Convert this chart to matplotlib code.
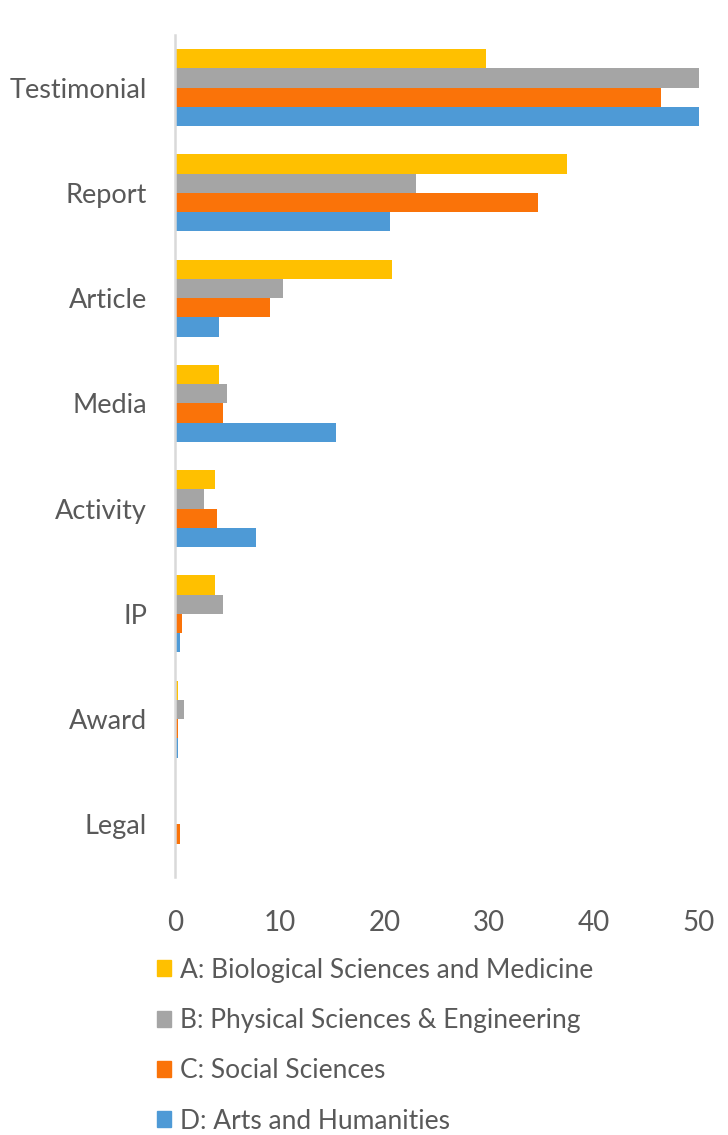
import numpy as np
import matplotlib.pyplot as plt
from matplotlib.patches import Patch

plt.rcParams['font.family'] = ['Lato', 'DejaVu Sans']

categories = ['Testimonial', 'Report', 'Article', 'Media', 'Activity', 'IP', 'Award', 'Legal']
series_names = ['A: Biological Sciences and Medicine',
                'B: Physical Sciences & Engineering',
                'C: Social Sciences',
                'D: Arts and Humanities']
bio = [29.7, 37.4, 20.7, 4.2, 3.8, 3.8, 0.25, 0]
phys = [50.1, 23.0, 10.3, 5.0, 2.8, 4.6, 0.9, 0]
social = [46.4, 34.6, 9.1, 4.6, 4.0, 0.7, 0.3, 0.5]
arts = [50.1, 20.5, 4.2, 15.4, 7.7, 0.5, 0.25, 0]
colors = ['#FFC000', '#A5A5A5', '#FA7309', '#4E9AD6']
xticks = [0, 10, 20, 30, 40, 50]

W, H = 728, 1135
fig = plt.figure(figsize=(W / 100, H / 100), dpi=100)
ax = fig.add_axes([175 / W, 1 - 877 / H, 524 / W, 842 / H])

y = np.arange(len(categories))
h = 0.183
for i, (vals, c) in enumerate(zip([bio, phys, social, arts], colors)):
    ax.barh(y + (i - 1.5) * h, vals, height=h, color=c, label=series_names[i])

ax.set_ylim(len(categories) - 0.5, -0.5)
ax.set_xlim(0, 50)
ax.set_yticks(y)
ax.set_yticklabels(categories)
ax.set_xticks(xticks)
for s in ['top', 'right', 'bottom']:
    ax.spines[s].set_visible(False)
ax.spines['left'].set_color('#D9D9D9')
ax.spines['left'].set_linewidth(1.8)
ax.tick_params(axis='both', length=0, colors='#595959')
ax.tick_params(axis='y', pad=20, labelsize=19.5)
ax.tick_params(axis='x', pad=24, labelsize=20)

handles = [Patch(color=c) for c in colors]
fig.legend(handles, series_names, loc='upper left', bbox_to_anchor=(146 / W, 1 - 947 / H),
           frameon=False, fontsize=19, labelcolor='#595959', handlelength=0.55, handleheight=0.55,
           handletextpad=0.35, labelspacing=0.96, borderaxespad=0)

fig.savefig('out.png', dpi=100)
